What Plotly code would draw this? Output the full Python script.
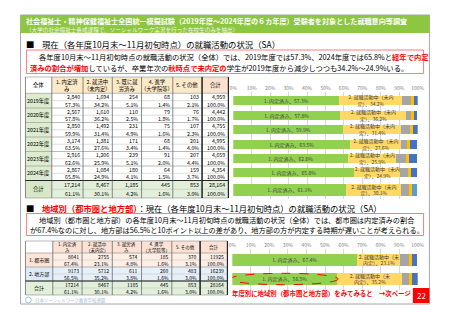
import plotly.graph_objects as go

W, H = 453, 320
FONT = "Noto Sans CJK JP"


def X(p):
    return p / W


def Y(p):
    return 1 - p / H


# ---------------- data ----------------
years = ["2019年度", "2020年度", "2021年度", "2022年度", "2023年度", "2024年度", "合計"]
series_names = ["1. 内定済み", "2. 就職活動中（未内定）", "3. 既に就労済み", "4. 進学（大学院等）", "5. その他"]

cnt_naitei = [2840, 2567, 2850, 3174, 2916, 2867, 17214]
cnt_katsudo = [1694, 1610, 1492, 1381, 1206, 1084, 8467]
cnt_shuro = [254, 110, 231, 171, 239, 180, 1185]
cnt_shingaku = [68, 79, 75, 68, 91, 64, 445]
cnt_sonota = [103, 76, 107, 201, 207, 159, 853]
cnt_total = [4959, 4442, 4755, 4995, 4659, 4354, 28164]

pct_naitei = [57.3, 57.8, 59.9, 63.5, 62.6, 65.8, 61.1]
pct_katsudo = [34.2, 36.2, 31.4, 27.6, 25.9, 24.9, 30.1]
pct_shuro = [5.1, 2.5, 4.9, 3.4, 5.1, 4.1, 4.2]
pct_shingaku = [1.4, 1.8, 1.6, 1.4, 2.0, 1.5, 1.6]
pct_sonota = [2.1, 1.7, 2.3, 4.0, 4.4, 3.7, 3.0]
pct_total = [100.0, 100.0, 100.0, 100.0, 100.0, 100.0, 100.0]

regions = ["1. 都市圏", "2. 地方部", "合計"]
reg_naitei = [8041, 9173, 17214]
reg_katsudo = [2755, 5712, 8467]
reg_shuro = [574, 611, 1185]
reg_shingaku = [185, 260, 445]
reg_sonota = [370, 483, 853]
reg_total = [11925, 16239, 28164]
reg_pct_naitei = [67.4, 56.5, 61.1]
reg_pct_katsudo = [23.1, 35.2, 30.1]
reg_pct_shuro = [4.8, 3.8, 4.2]
reg_pct_shingaku = [1.6, 1.6, 1.6]
reg_pct_sonota = [3.1, 3.0, 3.0]
reg_pct_total = [100.0, 100.0, 100.0]

t1_headers = ["全体", "1. 内定済<br>み", "2. 就活中<br>（未内定）", "3. 既に就<br>労済み",
              "4. 進学<br>（大学院等）", "5. その他", "合計"]
t2_headers = ["", "1. 内定済<br>み", "2. 就活中<br>（未内定）", "3. 就労済<br>み",
              "4. 進学<br>（大学院等）", "5. その他", "合計"]
tick_vals = [0, 10, 20, 30, 40, 50, 60, 70, 80, 90, 100]

# ---------------- styles ----------------
C_GREEN = "#92D050"
C_YELLOW = "#FFD966"
C_GRAY = "#A5A5A5"
C_ORANGE = "#FFC000"
C_BLUE = "#4472C4"
C_LBLUE = "#5B9BD5"
seg_colors = [C_GREEN, C_YELLOW, C_GRAY, C_ORANGE, C_BLUE]

fig = go.Figure()

# ---------------- chart 1 ----------------
ypos1 = [0, 1, 2, 3, 4, 5, 6.18]
widths1 = [0.63, 0.63, 0.63, 0.63, 0.63, 0.63, 0.82]
pcts1 = [pct_naitei, pct_katsudo, pct_shuro, pct_shingaku, pct_sonota]
for k, vals in enumerate(pcts1):
    if k == 0:
        txt = [f"1. 内定済み、{v}%" for v in vals]
    elif k == 1:
        txt = [f"2. 就職活動中（未内<br>定）、{v}%" for v in vals]
    else:
        txt = ["" for _ in vals]
    col = seg_colors[k]
    if k == 4:
        col = [C_BLUE] * 6 + [C_LBLUE]
    fig.add_trace(go.Bar(
        x=vals, y=ypos1, orientation="h", width=widths1, name=series_names[k],
        marker=dict(color=col, line=dict(width=0)),
        text=txt, textposition="inside", insidetextanchor="middle", textangle=0,
        constraintext="none", textfont=dict(size=5, color="#404040", family=FONT),
        cliponaxis=False, xaxis="x", yaxis="y", showlegend=False, hoverinfo="skip"))

# ---------------- chart 2 ----------------
ypos2 = [0, 1]
pcts2 = [reg_pct_naitei[:2], reg_pct_katsudo[:2], reg_pct_shuro[:2], reg_pct_shingaku[:2], reg_pct_sonota[:2]]
for k, vals in enumerate(pcts2):
    if k == 0:
        txt = [f"1. 内定済み、{v}%" for v in vals]
    elif k == 1:
        txt = [f"2. 就職活動中（未<br>内定）、{v}%" for v in vals]
    else:
        txt = ["" for _ in vals]
    fig.add_trace(go.Bar(
        x=vals, y=ypos2, orientation="h", width=0.64, name=series_names[k],
        marker=dict(color=seg_colors[k], line=dict(width=0)),
        text=txt, textposition="inside", insidetextanchor="middle", textangle=0,
        constraintext="none", textfont=dict(size=5, color="#404040", family=FONT),
        cliponaxis=False, xaxis="x2", yaxis="y2", showlegend=False, hoverinfo="skip"))

axis_common = dict(range=[0, 100], side="top", tickvals=tick_vals,
                   ticktext=[f"{v}%" for v in tick_vals],
                   tickfont=dict(size=5, color="#7F7F7F", family=FONT),
                   showgrid=True, gridcolor="#D9D9D9", gridwidth=0.6, zeroline=False,
                   showline=False, ticks="", fixedrange=True)

shapes = []
anns = []


def rect(x0, y0, x1, y1, fill, line_color=None, lw=0, dash=None):
    d = dict(type="rect", xref="paper", yref="paper", x0=X(x0), x1=X(x1), y0=Y(y1), y1=Y(y0),
             fillcolor=fill, line=dict(width=lw, color=line_color or "rgba(0,0,0,0)"))
    if dash:
        d["line"]["dash"] = dash
    shapes.append(d)


def line(x0, y0, x1, y1, color, lw=0.6, dash=None):
    d = dict(type="line", xref="paper", yref="paper", x0=X(x0), x1=X(x1), y0=Y(y0), y1=Y(y1),
             line=dict(width=lw, color=color))
    if dash:
        d["line"]["dash"] = dash
    shapes.append(d)


def text(x, y, s, size, color="#000000", xanchor="left", bold=False, yanchor="middle"):
    if bold:
        s = f"<b>{s}</b>"
    anns.append(dict(x=X(x), y=Y(y), xref="paper", yref="paper", text=s, showarrow=False,
                     xanchor=xanchor, yanchor=yanchor, align=xanchor if xanchor != "middle" else "center",
                     font=dict(size=size, color=color, family=FONT)))


def red(s):
    return f'<span style="color:#FF0000"><b>{s}</b></span>'


# ---------------- slide frame & header ----------------
rect(17, 15, 436, 304, "rgba(0,0,0,0)", "#A6A6A6", 1)
rect(17, 15, 436, 33, "#8DC641")
text(21, 21.2, "社会福祉士・精神保健福祉士全国統一模擬試験（2019年度～2024年度の６カ年度）受験者を対象とした就職意向等調査",
     7.1, "#FFFFFF", bold=True)
text(21, 29.6, "（大学の社会福祉士養成課程で、ソーシャルワーク実習を行った在校生のみを抽出）", 5.6, "#F2F9E6")

# section 1
text(21, 43.5, "■", 8.4, "#000000")
text(37, 43.5, "現在（各年度10月末～11月初旬時点）の就職活動の状況（SA）", 8.4, "#000000")
rect(23, 50, 430, 73.5, "#FFFFFF", "#FF7C80", 1)
text(34, 57.3, "各年度10月末～11月初旬時点の就職活動の状況（全体）では、2019年度では57.3%、2024年度では65.8%と"
     + red("経年で内定"), 7.3, "#000000")
text(25, 68.0, red("済みの割合が増加") + "しているが、卒業年次の" + red("秋時点で未内定の")
     + "学生が2019年度から減少しつつも34.2%～24.9%いる。", 7.3, "#000000")

# section 2
text(21, 207.8, "■", 8.4, "#000000")
text(37, 207.8, red("地域別（都市圏と地方部）") + "：現在（各年度10月末～11月初旬時点）の就職活動の状況（SA）",
     8.3, "#000000")
rect(23, 213.5, 430, 235.5, "#FFFFFF", "#FF7C80", 1)
text(34, 219.8, "地域別（都市圏と地方部）の各年度10月末～11月初旬時点の就職活動の状況（全体）では、都市圏は内定済みの割合",
     7.2, "#000000")
text(25, 229.6, "が67.4%なのに対し、地方部は56.5%と10ポイント以上の差があり、地方部の方が内定する時期が遅いことが考えられる。",
     7.2, "#000000")


# ---------------- tables ----------------
def fmt_comma(v):
    return f"{v:,}"


def fmt_plain(v):
    return f"{v}"


def draw_table(cols, header_top, blocks, headers, labels, counts, pcts, fmt,
               head_fills, label_fills, cell_fills, label_align, fs=5.3, hfs=5.3):
    for j in range(7):
        rect(cols[j], header_top, cols[j + 1], blocks[0], head_fills[j])
        text((cols[j] + cols[j + 1]) / 2, (header_top + blocks[0]) / 2, headers[j], hfs, "#000000",
             xanchor="center")
    for i, lab in enumerate(labels):
        y0, y1 = blocks[i], blocks[i + 1]
        ym = (y0 + y1) / 2
        rect(cols[0], y0, cols[1], y1, label_fills[i])
        for j in range(6):
            rect(cols[j + 1], y0, cols[j + 2], y1, cell_fills[i])
        if label_align == "left" and lab != "合計":
            text(cols[0] + 1.5, ym, lab, fs, "#000000")
        else:
            text((cols[0] + cols[1]) / 2, ym, lab, fs, "#000000", xanchor="center")
        for j in range(6):
            xr = cols[j + 2] - 1.2
            text(xr, (y0 + ym) / 2 + 0.3, fmt(counts[j][i]), fs, "#000000", xanchor="right")
            text(xr, (ym + y1) / 2 + 0.2, f"{pcts[j][i]:.1f}%", fs, "#000000", xanchor="right")
        line(cols[1], ym, cols[-1], ym, "#BFBFBF", 0.5)
    bottom = blocks[-1]
    for b in [header_top] + blocks:
        line(cols[0], b, cols[-1], b, "#8C8C8C", 0.6)
    for c in cols:
        line(c, header_top, c, bottom, "#595959", 0.7)
    line(cols[-2], header_top, cols[-2], bottom, "#262626", 1.4)
    line(cols[-1], header_top, cols[-1], bottom, "#262626", 1.2)
    line(cols[0], blocks[-2], cols[-1], blocks[-2], "#262626", 1.1)


t1_cols = [22, 49, 81, 111, 141, 173, 203, 230]
t1_blocks = [93.3, 108, 122.5, 137, 151.5, 166, 180.5, 198]
draw_table(t1_cols, 77, t1_blocks, t1_headers, years,
           [cnt_naitei, cnt_katsudo, cnt_shuro, cnt_shingaku, cnt_sonota, cnt_total],
           [pct_naitei, pct_katsudo, pct_shuro, pct_shingaku, pct_sonota, pct_total],
           fmt_comma,
           ["#FFFFFF"] + ["#FCE9C8"] * 5 + ["#FBE2CF"],
           ["#DDEBCF"] * 6 + ["#D6E8C6"],
           ["#FFFFFF"] * 6 + ["#E2EFDA"],
           "center")

t2_cols = [22, 50, 80, 111, 141, 172, 201, 229]
t2_blocks = [253, 267, 281, 295]
draw_table(t2_cols, 241, t2_blocks, t2_headers, regions,
           [reg_naitei, reg_katsudo, reg_shuro, reg_shingaku, reg_sonota, reg_total],
           [reg_pct_naitei, reg_pct_katsudo, reg_pct_shuro, reg_pct_shingaku, reg_pct_sonota, reg_pct_total],
           fmt_plain,
           ["#FFFFFF"] + ["#FBE2D5"] * 5 + ["#FBE2D5"],
           ["#FCE4D6", "#DDEBF7", "#E2EFDA"],
           ["#FDEEE6", "#E6F0F9", "#E2EFDA"],
           "left", fs=5.0, hfs=4.5)

# dashed ellipse around 地方部 内定済み segment (axis coordinates)
shapes.append(dict(type="circle", xref="x2", yref="y2", x0=-1.2, x1=reg_pct_naitei[1] + 0.6,
                   y0=1 - 0.3, y1=1 + 0.3, line=dict(color="#FF0000", width=1, dash="dash")))

# bottom note and page number
text(232, 293.5, "年度別に地域別（都市圏と地方部）をみてみると　→次ページ", 6.4, "#FF0000", bold=True)
rect(419, 288, 436, 303, "#FF0000")
text(427.5, 295.5, "22", 8, "#FFFFFF", xanchor="center")

# logo (faint)
shapes.append(dict(type="circle", xref="paper", yref="paper", x0=X(22), x1=X(28), y0=Y(303), y1=Y(297),
                   line=dict(color="#9FC4E0", width=1), fillcolor="rgba(0,0,0,0)"))
text(30, 300, "日本ソーシャルワーク教育学校連盟", 4.4, "#A9BED6")

fig.update_layout(
    width=W, height=H, margin=dict(l=0, r=0, t=0, b=0),
    paper_bgcolor="#FFFFFF", plot_bgcolor="rgba(0,0,0,0)",
    barmode="stack", bargap=0, showlegend=False,
    font=dict(family=FONT),
    xaxis=dict(domain=[X(235), X(424)], anchor="y", **axis_common),
    yaxis=dict(domain=[Y(198.6), Y(92.1)], range=[6.78, -0.62], visible=False, fixedrange=True),
    xaxis2=dict(domain=[X(234), X(424)], anchor="y2", **axis_common),
    yaxis2=dict(domain=[Y(290), Y(249)], range=[1.58, -0.58], visible=False, fixedrange=True),
    shapes=shapes, annotations=anns,
)

fig.write_html("out.html")
